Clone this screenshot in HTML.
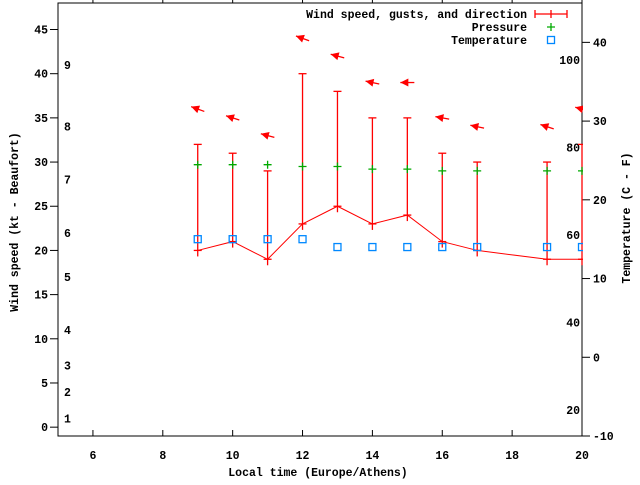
<!DOCTYPE html>
<html><head><meta charset="utf-8"><style>
body{margin:0;background:#fff}
svg text{font-family:"Liberation Mono",monospace;font-weight:bold;font-size:11.5px;fill:#000}
</style></head><body>
<svg width="640" height="480" xmlns="http://www.w3.org/2000/svg">
<g id="axes"></g><g id="plot"></g><g id="legend"></g>
</svg>
<script>
const hours=[9,10,11,12,13,14,15,16,17,19,20];
const windSpeed=[20,21,19,23,25,23,24,21,20,19,19];
const gusts=[32,31,29,40,38,35,35,31,30,30,32];
const pressure=[29.7,29.7,29.7,29.5,29.5,29.2,29.2,29.0,29.0,29.0,29.0];
const temperature=[15,15,15,15,14,14,14,14,14,14,14];
const windDir=[20,18,15,20,15,12,0,10,12,18,15];
const xTicks=[6,8,10,12,14,16,18,20];
const yTicks=[0,5,10,15,20,25,30,35,40,45];
const y2Ticks=[-10,0,10,20,30,40];
const fTicks=[20,40,60,80,100];
const beaufortKt=[1,4,7,11,17,22,28,34,41];
const beaufortLabels=["1","2","3","4","5","6","7","8","9"];

const L=58,R=582,T=3,B=436;
const xs=h=>L+(h-5)*(R-L)/15;
const ys=v=>B-(v+1)*(B-T)/49;
const yt=c=>B-(c+10)*(B-T)/55;
const NS="http://www.w3.org/2000/svg";
function mk(par,tag,at,txt){const e=document.createElementNS(NS,tag);for(const k in at)e.setAttribute(k,at[k]);if(txt!==undefined)e.textContent=txt;document.getElementById(par).appendChild(e);return e;}

let e;
e=mk('axes','rect',{x:L,y:T,width:R-L,height:B-T,fill:'none',stroke:'#000','stroke-width':1});


xTicks.forEach(h=>{
 mk('axes','line',{x1:xs(h),x2:xs(h),y1:B,y2:B-6,stroke:'#000'});
 mk('axes','line',{x1:xs(h),x2:xs(h),y1:T,y2:T-6,stroke:'#000'});
 e=mk('axes','text',{x:xs(h),y:459,'text-anchor':'middle'},String(h));
 
 
});
yTicks.forEach(v=>{
 mk('axes','line',{x1:L-8,x2:L,y1:ys(v),y2:ys(v),stroke:'#000'});
 e=mk('axes','text',{x:48,y:ys(v)+4,'text-anchor':'end'},String(v));
 
 
});
y2Ticks.forEach(c=>{
 mk('axes','line',{x1:R,x2:R+8,y1:yt(c),y2:yt(c),stroke:'#000'});
 e=mk('axes','text',{x:593,y:yt(c)+4},String(c));
 
 
});
fTicks.forEach(f=>{
 e=mk('axes','text',{x:580,y:yt((f-32)*5/9)+4,'text-anchor':'end'},String(f));
 
 
});
beaufortKt.forEach((k,i)=>{
 e=mk('axes','text',{x:64,y:ys(k)+4},beaufortLabels[i]);
 
 
});
e=mk('axes','text',{x:318,y:476,'text-anchor':'middle'},'Local time (Europe/Athens)');


e=mk('axes','text',{x:0,y:0,'text-anchor':'middle',transform:'translate(18,222) rotate(-90)'},'Wind speed (kt - Beaufort)');


e=mk('axes','text',{x:0,y:0,'text-anchor':'middle',transform:'translate(630,218) rotate(-90)'},'Temperature (C - F)');



// plot clip
const cp=mk('plot','clipPath',{id:'cp'});
const cr=document.createElementNS(NS,'rect');cr.setAttribute('x',L);cr.setAttribute('y',T);cr.setAttribute('width',R-L+1);cr.setAttribute('height',B-T);cp.appendChild(cr);
const g=mk('plot','g',{'clip-path':'url(#cp)'});


function add(tag,at){const el=document.createElementNS(NS,tag);for(const k in at)el.setAttribute(k,at[k]);g.appendChild(el);return el;}

let pts=hours.map((h,i)=>xs(h)+','+ys(windSpeed[i])).join(' ');
e=add('polyline',{points:pts,fill:'none',stroke:'#f00','stroke-width':1});


hours.forEach((h,i)=>{
 const x=xs(h);
 e=add('line',{x1:x,x2:x,y1:ys(windSpeed[i])+6,y2:ys(gusts[i]),stroke:'#f00','stroke-width':1.3});
 
 
 add('line',{x1:x-4,x2:x+4,y1:ys(gusts[i]),y2:ys(gusts[i]),stroke:'#f00','stroke-width':1.3});
 add('line',{x1:x-4,x2:x+4,y1:ys(windSpeed[i]),y2:ys(windSpeed[i]),stroke:'#f00','stroke-width':1.3});
 // pressure
 const py=ys(pressure[i]);
 e=add('path',{d:`M${x-4},${py}H${x+4}M${x},${py-4}V${py+4}`,stroke:'#0a0','stroke-width':1.3});
 
 
 // temperature
 const ty=yt(temperature[i]);
 e=add('rect',{x:x-3.5,y:ty-3.5,width:7,height:7,fill:'none',stroke:'#08f','stroke-width':1.3});
 
 
 // arrow
 const ay=ys(gusts[i]+4), a=windDir[i]*Math.PI/180;
 const dx=Math.cos(a)*7, dy=Math.sin(a)*7;
 const hx=x-dx, hy=ay-dy, tx=x+dx, tyy=ay+dy;
 const ar=add('g',{});
 
 
 const l=document.createElementNS(NS,'line');
 [['x1',hx],['y1',hy],['x2',tx],['y2',tyy],['stroke','#f00'],['stroke-width','1.3']].forEach(p=>l.setAttribute(p[0],p[1]));ar.appendChild(l);
 const ux=dx/7,uy=dy/7,px=-uy,py2=ux;
 const hp=document.createElementNS(NS,'polygon');
 hp.setAttribute('points',`${hx},${hy} ${hx+ux*8+px*4},${hy+uy*8+py2*4} ${hx+ux*8-px*4},${hy+uy*8-py2*4}`);
 hp.setAttribute('fill','#f00');ar.appendChild(hp);
});

// legend
e=mk('legend','text',{x:527,y:18,'text-anchor':'end'},'Wind speed, gusts, and direction');


mk('legend','path',{d:'M535,14H567M535,10V18M551,10V18M567,10V18',stroke:'#f00','stroke-width':1.3});
e=mk('legend','text',{x:527,y:31,'text-anchor':'end'},'Pressure');


mk('legend','path',{d:'M547,27H555M551,23V31',stroke:'#0a0','stroke-width':1.3});
e=mk('legend','text',{x:527,y:44,'text-anchor':'end'},'Temperature');


mk('legend','rect',{x:547.5,y:36.5,width:7,height:7,fill:'none',stroke:'#08f','stroke-width':1.3});
</script>
</body></html>
